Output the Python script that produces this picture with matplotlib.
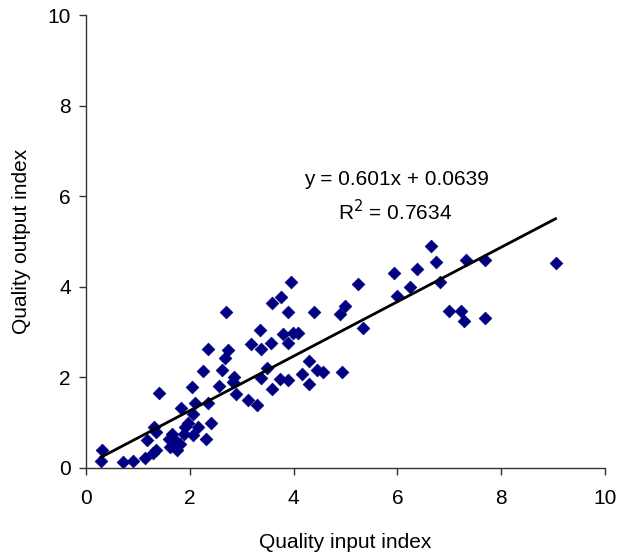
import numpy as np
import matplotlib
matplotlib.use("Agg")
import matplotlib.pyplot as plt

plt.rcParams['font.family'] = ['Liberation Sans', 'DejaVu Sans']

# Data
x_input = [0.31, 0.29, 0.72, 0.91, 1.13, 1.18, 1.31, 1.35, 1.35, 1.30,
           1.41, 1.59, 1.65, 1.62, 1.68, 1.75, 1.72, 1.81, 1.84, 1.88,
           1.91, 1.97, 2.07, 2.04, 2.10, 2.07, 2.15, 2.31, 2.36, 2.25,
           2.36, 2.41, 2.56, 2.63, 2.67, 2.73, 2.70, 2.84, 2.85, 2.90,
           3.13, 3.30, 3.18, 3.35, 3.38, 3.38, 3.48, 3.56, 3.58, 3.76,
           3.58, 3.73, 3.80, 3.90, 3.90, 3.90, 3.95, 3.98, 4.08, 4.16,
           4.30, 4.30, 4.39, 4.46, 4.56, 4.89, 4.99, 4.93, 5.25, 5.33,
           5.94, 5.99, 6.25, 6.37, 6.65, 6.74, 6.83, 7.00, 7.23, 7.28,
           7.33, 7.69, 7.69, 9.05]
y_output = [0.40, 0.16, 0.125, 0.16, 0.23, 0.62, 0.90, 0.80, 0.40, 0.32,
            1.66, 0.65, 0.76, 0.47, 0.54, 0.40, 0.62, 0.54, 1.32, 0.76,
            0.91, 0.99, 1.19, 1.78, 1.44, 0.73, 0.90, 0.65, 1.44, 2.14,
            2.63, 0.99, 1.81, 2.16, 2.42, 2.60, 3.44, 1.90, 2.00, 1.63,
            1.49, 1.39, 2.73, 3.05, 2.63, 1.99, 2.20, 2.77, 3.64, 3.77,
            1.74, 1.97, 2.96, 3.44, 2.77, 1.94, 4.10, 2.99, 2.99, 2.07,
            2.37, 1.85, 3.44, 2.16, 2.13, 3.41, 3.58, 2.13, 4.06, 3.08,
            4.30, 3.80, 4.00, 4.39, 4.89, 4.55, 4.10, 3.47, 3.47, 3.25,
            4.59, 4.59, 3.32, 4.53]

slope = 0.601
intercept = 0.0639
r_squared = 0.7634

fig = plt.figure(figsize=(6.21, 5.58), dpi=100)
ax = fig.add_axes([0.1385, 0.1613, 0.8355, 0.8118])

ax.scatter(x_input, y_output, marker='D', s=42, color='#000080',
           edgecolors='#000080', linewidths=0.5, zorder=2)

# linear trendline across the data range
x_fit = np.array([min(x_input), max(x_input)])
ax.plot(x_fit, slope * x_fit + intercept, color='black', lw=2.0, zorder=3)

ax.text(0.599, 0.636, "y = %.3fx + %.4f" % (slope, intercept),
        transform=ax.transAxes, ha='center', va='center', fontsize=15)
ax.text(0.595, 0.567, r"R$^2$ = %.4f" % r_squared,
        transform=ax.transAxes, ha='center', va='center', fontsize=15)

ax.set_xlim(0, 10)
ax.set_ylim(0, 10)
ax.set_xticks(range(0, 11, 2))
ax.set_yticks(range(0, 11, 2))
ax.spines['top'].set_visible(False)
ax.spines['right'].set_visible(False)
for s in ['left', 'bottom']:
    ax.spines[s].set_color('#333333')
    ax.spines[s].set_linewidth(1.0)
ax.tick_params(direction='out', length=5, width=1, color='#333333', labelsize=15, pad=6)
ax.tick_params(axis='x', pad=10)

ax.set_xlabel("Quality input index", fontsize=15, labelpad=18)
ax.set_ylabel("Quality output index", fontsize=15, labelpad=12)

fig.savefig("out.png", dpi=100)
